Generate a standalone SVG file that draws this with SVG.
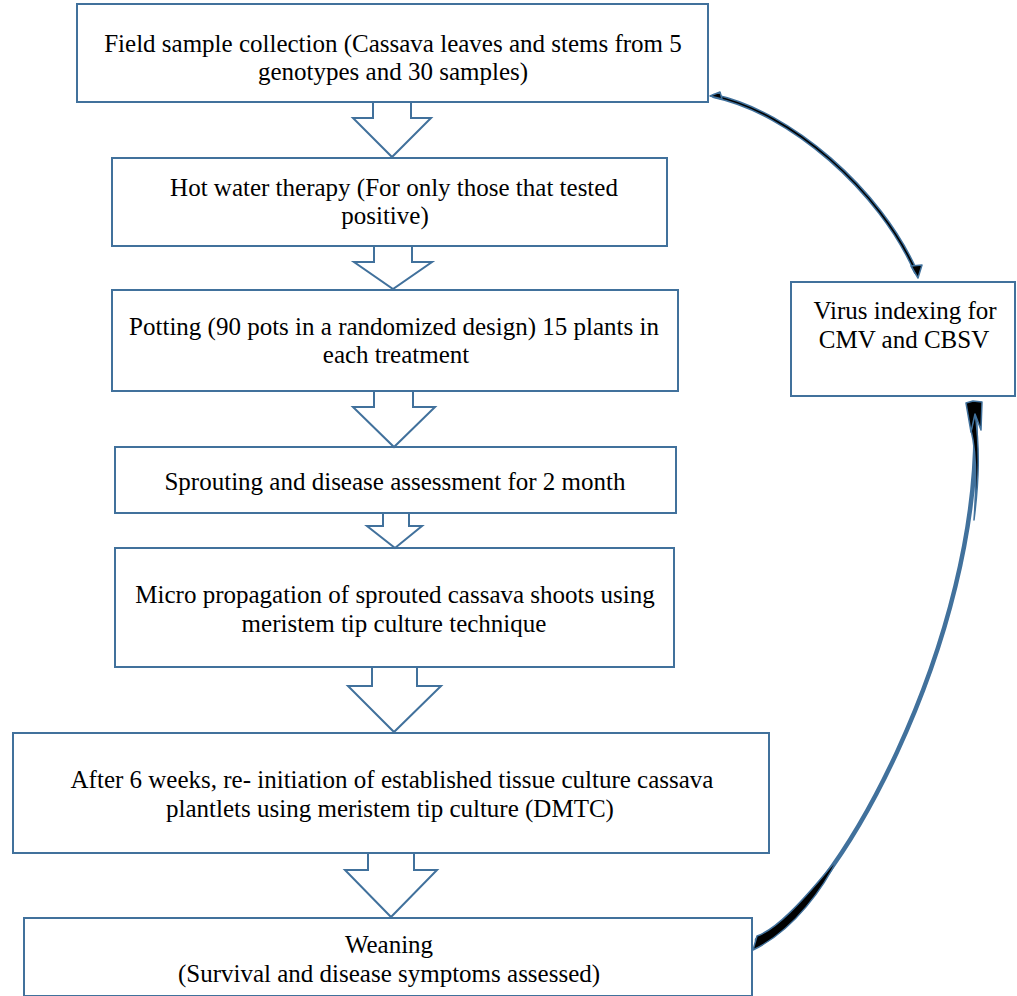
<svg xmlns="http://www.w3.org/2000/svg" width="1017" height="996" viewBox="0 0 1017 996">
<style>
.box{fill:#fff;stroke:#41719c;stroke-width:2}
.arr{fill:#fff;stroke:#41719c;stroke-width:2;stroke-linejoin:miter}
.t{font-family:"Liberation Serif","Times New Roman",serif;font-size:25px;fill:#000;text-anchor:middle}
.cv{fill:none;stroke:#41719c;stroke-width:4.5;stroke-linecap:round}
.cvi{fill:none;stroke:#000;stroke-width:1.6;stroke-linecap:round}
.head{fill:#000;stroke:#41719c;stroke-width:1.5;stroke-linejoin:round}
</style>
<rect width="1017" height="996" fill="#fff"/>
<g id="n1"><rect class="box" x="77" y="4" width="631" height="98"/>
<text class="t" x="393" y="52">Field sample collection (Cassava leaves and stems from 5</text>
<text class="t" x="393" y="80">genotypes and 30 samples)</text></g>
<g id="n2"><rect class="box" x="112" y="158" width="555" height="88"/>
<text class="t" x="394" y="196">Hot water therapy (For only those that tested</text>
<text class="t" x="385" y="224">positive)</text></g>
<g id="n3"><rect class="box" x="112" y="290" width="566" height="101"/>
<text class="t" x="394" y="335">Potting (90 pots in a randomized design) 15 plants in</text>
<text class="t" x="396" y="363">each treatment</text></g>
<g id="n4"><rect class="box" x="115" y="447" width="561" height="66"/>
<text class="t" x="395" y="490">Sprouting and disease assessment for 2 month</text></g>
<g id="n5"><rect class="box" x="115" y="548" width="559" height="119"/>
<text class="t" x="395" y="603">Micro propagation of sprouted cassava shoots using</text>
<text class="t" x="394" y="632">meristem tip culture technique</text></g>
<g id="n6"><rect class="box" x="13" y="733" width="756" height="120"/>
<text class="t" x="392" y="788">After 6 weeks, re- initiation of established tissue culture cassava</text>
<text class="t" x="390" y="817">plantlets using meristem tip culture (DMTC)</text></g>
<g id="n7"><rect class="box" x="24" y="918" width="728" height="78"/>
<text class="t" x="389" y="953">Weaning</text>
<text class="t" x="389" y="982">(Survival and disease symptoms assessed)</text></g>
<g id="n8"><rect class="box" x="791" y="282" width="224" height="114"/>
<text class="t" x="905" y="319">Virus indexing for</text>
<text class="t" x="904" y="348">CMV and CBSV</text></g>
<g id="connectors">
<polygon class="arr" points="373,102 411,102 411,118 431,118 392,157 353,118 373,118"/>
<polygon class="arr" points="374,246 412,246 412,262 432,262 393,289 354,262 374,262"/>
<polygon class="arr" points="374,391 413,391 413,407 435,407 394,447 353,407 374,407"/>
<polygon class="arr" points="383,513 409,513 409,526 422,526 395,548 367,526 383,526"/>
<polygon class="arr" points="372,667 417,667 417,686 441,686 394,732 348,686 372,686"/>
<polygon class="arr" points="368,853 414,853 414,870 437,870 391,917 345,870 368,870"/>
<path class="cv" d="M714,96 C790,112 880,190 916,272"/>
<path class="cvi" d="M714,96 C790,112 880,190 916,272"/>
<path class="head" d="M710,96 L720,92 L722,99 Z"/>
<path class="head" d="M918,278 L911,266 L922,265 Z"/>
<path class="cv" d="M757,940 C830,915 985,640 975,410"/>
<path class="head" d="M753,950 L757,936 C775,930 800,905 838,858 C825,885 795,930 753,950 Z"/>
<path class="head" d="M975,412 C980,450 979,480 974,520 C977,480 976,450 971,430 Z"/>
<path class="head" d="M973,401 L966,403 L971,432 L975,414 L981,430 L982,402 Z"/>
</g>
</svg>
